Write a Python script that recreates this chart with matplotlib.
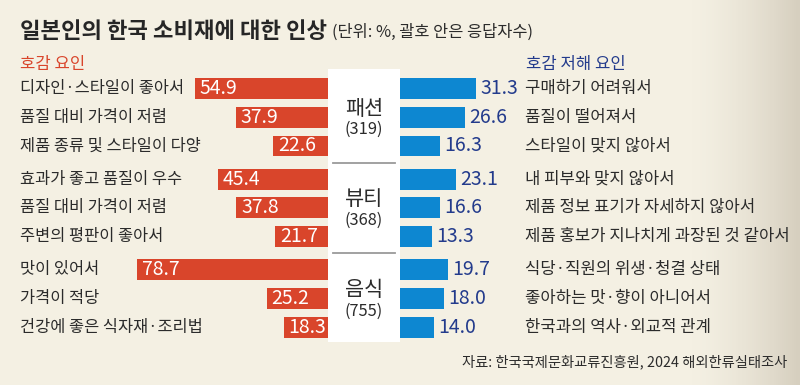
import numpy as np
import matplotlib
matplotlib.use('Agg')
import matplotlib.pyplot as plt
from matplotlib import transforms
from matplotlib.colors import LinearSegmentedColormap

plt.rcParams['font.family'] = ['Noto Sans CJK KR', 'DejaVu Sans']

# data
categories = ['패션', '뷰티', '음식']
counts = [319, 368, 755]
pos_labels = ['디자인·스타일이 좋아서', '품질 대비 가격이 저렴', '제품 종류 및 스타일이 다양',
              '효과가 좋고 품질이 우수', '품질 대비 가격이 저렴', '주변의 평판이 좋아서',
              '맛이 있어서', '가격이 적당', '건강에 좋은 식자재·조리법']
pos_values = [54.9, 37.9, 22.6, 45.4, 37.8, 21.7, 78.7, 25.2, 18.3]
neg_labels = ['구매하기 어려워서', '품질이 떨어져서', '스타일이 맞지 않아서',
              '내 피부와 맞지 않아서', '제품 정보 표기가 자세하지 않아서', '제품 홍보가 지나치게 과장된 것 같아서',
              '식당·직원의 위생·청결 상태', '좋아하는 맛·향이 아니어서', '한국과의 역사·외교적 관계']
neg_values = [31.3, 26.6, 16.3, 23.1, 16.6, 13.3, 19.7, 18.0, 14.0]

BG = '#f4f0e3'
RED = '#d9452b'
BLUE = '#0d87d1'
NAVY = '#233b8c'
TXT = '#2b2b2b'

W, H = 800, 385
fig = plt.figure(figsize=(W / 100, H / 100), dpi=100)
fig.patch.set_facecolor(BG)

# faint backdrop on the right edge
bg = fig.add_axes([0, 0, 1, 1], zorder=-5)
grad = np.clip((np.linspace(0, W, 400) - 690) / 110, 0, 1) ** 1.5
bg.imshow(np.tile(grad, (10, 1)), aspect='auto', extent=(0, 1, 0, 1),
          cmap=LinearSegmentedColormap.from_list('bg', [BG, '#d6cfbf']), vmin=0, vmax=1)
bg.set_axis_off()

# row layout
gap = 0.15
n_per = len(pos_values) // len(categories)
ypos = np.array([g * n_per + i + g * gap for g in range(len(categories)) for i in range(n_per)])
row_px, top_px = 28.75, 88.5


def y_lim(top, bottom):
    return (bottom - top_px) / row_px, (top - top_px) / row_px


bar_h = 0.73
scale = 2.43  # pixels per percent

# left (호감 요인)
ax_l = fig.add_axes([0, 0, 328 / W, 1])
ax_l.barh(ypos, pos_values, height=bar_h, color=RED)
ax_l.set_xlim(328 / scale, 0)
ax_l.set_ylim(*y_lim(0, H))
ax_l.set_axis_off()
for y, v in zip(ypos, pos_values):
    ax_l.annotate(f'{v:.1f}', (v, y), xytext=(3.5, 0), textcoords='offset points',
                  ha='left', va='center', color='white', fontsize=14)
tl = transforms.blended_transform_factory(fig.transFigure, ax_l.transData)
for y, lab in zip(ypos, pos_labels):
    ax_l.text(20 / W, y, lab, transform=tl, ha='left', va='center', color=TXT, fontsize=11.8)

# right (호감 저해 요인)
ax_r = fig.add_axes([400 / W, 0, 400 / W, 1])
ax_r.barh(ypos, neg_values, height=bar_h, color=BLUE)
ax_r.set_xlim(0, 400 / scale)
ax_r.set_ylim(*y_lim(0, H))
ax_r.set_axis_off()
for y, v in zip(ypos, neg_values):
    ax_r.annotate(f'{v:.1f}', (v, y), xytext=(3, 0), textcoords='offset points',
                  ha='left', va='center', color=NAVY, fontsize=14)
tr = transforms.blended_transform_factory(fig.transFigure, ax_r.transData)
for y, lab in zip(ypos, neg_labels):
    ax_r.text(525 / W, y, lab, transform=tr, ha='left', va='center', color=TXT, fontsize=12)

# middle category box
ax_m = fig.add_axes([328 / W, 1 - 342 / H, 72 / W, (342 - 69) / H])
ax_m.set_facecolor('white')
ax_m.set_xlim(0, 1)
ax_m.set_ylim(*y_lim(69, 342))
ax_m.set_xticks([])
ax_m.set_yticks([])
for s in ax_m.spines.values():
    s.set_visible(False)
tm = transforms.blended_transform_factory(ax_m.transAxes, ax_m.transData)
for g, (cat, n) in enumerate(zip(categories, counts)):
    yc = ypos[g * n_per:(g + 1) * n_per].mean()
    ax_m.annotate(cat, (0.5, yc), xycoords=tm, xytext=(0, 6), textcoords='offset points',
                  ha='center', va='center', fontsize=15, color=TXT)
    ax_m.annotate(f'({n})', (0.5, yc), xycoords=tm, xytext=(0, -9), textcoords='offset points',
                  ha='center', va='center', fontsize=11.8, color=TXT)
    if g > 0:
        ax_m.axhline((ypos[g * n_per - 1] + ypos[g * n_per]) / 2, xmin=0.07, xmax=0.93,
                     color='#9a9a9a', lw=1.3)

# titles
fig.text(20 / W, 1 - 31 / H, '일본인의 한국 소비재에 대한 인상', ha='left', va='center',
         fontsize=16, fontweight='bold', color='#262626')
fig.text(332 / W, 1 - 32 / H, '(단위: %, 괄호 안은 응답자수)', ha='left', va='center',
         fontsize=11.8, color=TXT)
fig.text(20 / W, 1 - 64 / H, '호감 요인', ha='left', va='center', fontsize=12, color=RED)
fig.text(526 / W, 1 - 64 / H, '호감 저해 요인', ha='left', va='center', fontsize=12, color=NAVY)
fig.text(787 / W, 1 - 362 / H, '자료: 한국국제문화교류진흥원, 2024 해외한류실태조사',
         ha='right', va='center', fontsize=10.3, color=TXT)

fig.savefig('out.png', dpi=100, facecolor=BG)
